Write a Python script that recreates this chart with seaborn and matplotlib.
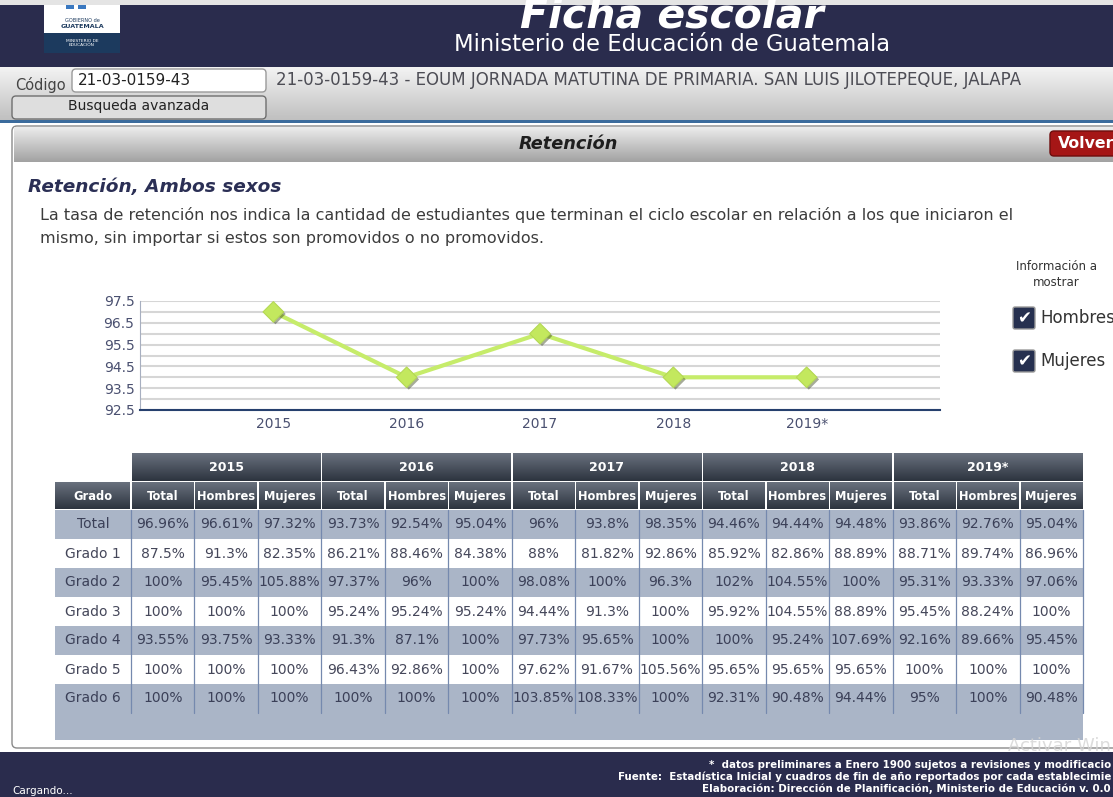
import numpy as np
import matplotlib.pyplot as plt
import matplotlib.colors as mcolors
import matplotlib.patheffects as pe
from matplotlib.patches import Rectangle, FancyBboxPatch
import seaborn as sns

# chart data
years = ["2015", "2016", "2017", "2018", "2019*"]
retention = [97.0, 94.0, 96.0, 94.0, 94.0]
y_ticks = [92.5, 93.5, 94.5, 95.5, 96.5, 97.5]

# table data
sub_cols = ["Total", "Hombres", "Mujeres"]
grados = ["Total", "Grado 1", "Grado 2", "Grado 3", "Grado 4", "Grado 5", "Grado 6"]
total_row = [96.96, 96.61, 97.32, 93.73, 92.54, 95.04, 96, 93.8, 98.35, 94.46, 94.44, 94.48, 93.86, 92.76, 95.04]
grado1 = [87.5, 91.3, 82.35, 86.21, 88.46, 84.38, 88, 81.82, 92.86, 85.92, 82.86, 88.89, 88.71, 89.74, 86.96]
grado2 = [100, 95.45, 105.88, 97.37, 96, 100, 98.08, 100, 96.3, 102, 104.55, 100, 95.31, 93.33, 97.06]
grado3 = [100, 100, 100, 95.24, 95.24, 95.24, 94.44, 91.3, 100, 95.92, 104.55, 88.89, 95.45, 88.24, 100]
grado4 = [93.55, 93.75, 93.33, 91.3, 87.1, 100, 97.73, 95.65, 100, 100, 95.24, 107.69, 92.16, 89.66, 95.45]
grado5 = [100, 100, 100, 96.43, 92.86, 100, 97.62, 91.67, 105.56, 95.65, 95.65, 95.65, 100, 100, 100]
grado6 = [100, 100, 100, 100, 100, 100, 103.85, 108.33, 100, 92.31, 90.48, 94.44, 95, 100, 90.48]
rows = [total_row, grado1, grado2, grado3, grado4, grado5, grado6]

# footer notes, as far as they show on screen
notes = ["*  datos preliminares a Enero 1900 sujetos a revisiones y modificacio",
         "Fuente:  Estadística Inicial y cuadros de fin de año reportados por cada establecimie",
         "Elaboración: Dirección de Planificación, Ministerio de Educación v. 0.0"]

sns.set_style("white")
plt.rcParams['font.family'] = ['DejaVu Sans']

W, H = 1113, 797
fig = plt.figure(figsize=(W / 100, H / 100), dpi=100)
bg = fig.add_axes([0, 0, 1, 1])
bg.axis('off')

NAVY = '#2a2c4d'


def grad(x0, y0, x1, y1, top, bottom, z=1):
    c = np.linspace(0, 1, 64)[:, None, None]
    t = np.array(mcolors.to_rgb(top))[None, None, :]
    b = np.array(mcolors.to_rgb(bottom))[None, None, :]
    img = t * (1 - c) + b * c
    bg.imshow(img, extent=(x0, x1, y1, y0), aspect='auto', zorder=z, interpolation='bilinear')


def box(x0, y0, w, h, fc, ec='none', z=1, r=0, lw=1):
    if r:
        p = FancyBboxPatch((x0, y0), w, h, boxstyle=f"round,pad=0,rounding_size={r}",
                           fc=fc, ec=ec, lw=lw, zorder=z)
    else:
        p = Rectangle((x0, y0), w, h, fc=fc, ec=ec, lw=lw, zorder=z)
    bg.add_patch(p)
    return p


# top banner
box(0, 0, W, 5, '#e4e4e4')
banner = box(0, 5, W, 62, NAVY)
box(44, 5, 76, 28, 'white', z=2)
box(44, 33, 76, 20, '#1c3a5e', z=2)
box(66, 5, 8, 4, '#3a78c0', z=3)
box(78, 5, 8, 4, '#3a78c0', z=3)
bg.text(82, 20, "GOBIERNO de", ha='center', va='center', fontsize=3.6, color='#1c3a5e', zorder=3)
bg.text(82, 26, "GUATEMALA", ha='center', va='center', fontsize=4.6, fontweight='bold', color='#1c3a5e', zorder=3)
bg.text(82, 43, "MINISTERIO DE\nEDUCACIÓN", ha='center', va='center', fontsize=3.2, color='white',
        linespacing=1.1, zorder=3)
title = bg.text(672, 27, "Ficha escolar", ha='center', va='baseline', fontsize=29.5, fontweight='bold',
                fontstyle='italic', color='white', zorder=3)
title.set_clip_path(banner)
bg.text(672, 44, "Ministerio de Educación de Guatemala", ha='center', va='center', fontsize=16.3,
        color='white', zorder=3)

# search bar
grad(0, 67, W, 120, '#f3f3f3', '#c0c0c0')
bg.text(15, 85, "Código", va='center', fontsize=10.5, color='#444444', zorder=3)
box(72, 69, 194, 23, 'white', ec='#9a9a9a', z=2, r=4)
bg.text(78, 80, "21-03-0159-43", va='center', fontsize=11, color='#222222', zorder=3)
box(12, 96, 254, 23, '#dedede', ec='#6f6f6f', z=2, r=4)
bg.text(139, 106, "Busqueda avanzada", ha='center', va='center', fontsize=10, color='#222222', zorder=3)
bg.text(276, 80, "21-03-0159-43 - EOUM JORNADA MATUTINA DE PRIMARIA. SAN LUIS JILOTEPEQUE, JALAPA",
        va='center', fontsize=12, color='#4d4d55', zorder=3)
box(0, 120, W, 3, '#3b6b9c', z=2)

# main panel
box(12, 126, W, 622, 'white', ec='#8a8a8a', z=1, r=5)
grad(14, 127, W, 162, '#ececec', '#a2a2a2', z=2)
bg.text(568, 144, "Retención", ha='center', va='center', fontsize=12.8, fontweight='bold',
        fontstyle='italic', color='#1e1e1e', zorder=3)
box(1050, 131, 70, 25, '#a51616', ec='#6d0c0c', z=3, r=4)
bg.text(1058, 143, "Volver", va='center', fontsize=11.3, fontweight='bold', color='white', zorder=4)

bg.text(28, 187, "Retención, Ambos sexos", va='center', fontsize=13.3, fontweight='bold',
        fontstyle='italic', color='#2b2f55', zorder=3)
bg.text(40, 215, "La tasa de retención nos indica la cantidad de estudiantes que terminan el ciclo "
        "escolar en relación a los que iniciaron el", va='center', fontsize=11.5, color='#3c3c3c', zorder=3)
bg.text(40, 238, "mismo, sin importar si estos son promovidos o no promovidos.", va='center',
        fontsize=11.5, color='#3c3c3c', zorder=3)

# display options
bg.text(1056, 274, "Información a\nmostrar", ha='center', va='center', fontsize=8.5,
        color='#333333', linespacing=1.3, zorder=3)
for label, yc in [("Hombres", 318), ("Mujeres", 361)]:
    box(1013, yc - 11, 22, 22, '#26304f', ec='#9a9a9a', z=3, r=2)
    bg.text(1024, yc, "✔", ha='center', va='center', fontsize=12, color='white', zorder=4)
    bg.text(1040, yc, label, va='center', fontsize=12, color='#333333', zorder=4)

# table
gx0, gx1 = 55, 131
cw = (1083 - 131) / 15
r1, r2, rt = 453, 482, 510
rh = 29
hdr_top, hdr_bot = '#69717e', '#2d343f'
for i, yr in enumerate(years):
    x = gx1 + i * 3 * cw
    grad(x + 1, r1, x + 3 * cw - 1, r2 - 1, hdr_top, hdr_bot, z=2)
    bg.text(x + 1.5 * cw, (r1 + r2) / 2, yr, ha='center', va='center', fontsize=9,
            fontweight='bold', color='white', zorder=3)
    for j, sc in enumerate(sub_cols):
        xs = x + j * cw
        grad(xs + 1, r2, xs + cw - 1, rt - 1, hdr_top, hdr_bot, z=2)
        bg.text(xs + cw / 2, (r2 + rt) / 2, sc, ha='center', va='center', fontsize=8.3,
                fontweight='bold', color='white', zorder=3)
grad(gx0, r2, gx1 - 1, rt - 1, hdr_top, hdr_bot, z=2)
bg.text((gx0 + gx1) / 2, (r2 + rt) / 2, "Grado", ha='center', va='center', fontsize=8.3,
        fontweight='bold', color='white', zorder=3)

SHADE = '#aab5c7'
for k, (g, vals) in enumerate(zip(grados, rows)):
    y = rt + k * rh
    if k % 2 == 0:
        box(gx0, y, 1083 - gx0, rh, SHADE, z=2)
    tc = '#3b4058' if k % 2 == 0 else '#45475a'
    bg.text((gx0 + gx1) / 2, y + rh / 2, g, ha='center', va='center', fontsize=10, color=tc, zorder=3)
    for c, v in enumerate(vals):
        bg.text(gx1 + c * cw + cw / 2, y + rh / 2, f"{v:g}%", ha='center', va='center',
                fontsize=10, color=tc, zorder=3)
box(gx0, rt + len(grados) * rh, 1083 - gx0, 27, SHADE, z=2)
for c in range(16):
    xl = gx1 + c * cw
    bg.plot([xl, xl], [rt, rt + len(grados) * rh], color='#7589ae', lw=0.9, zorder=3)

# footer
box(0, 752, W, 45, NAVY)
for n, note in enumerate(notes):
    bg.text(1111, 765 + 12 * n, note, ha='right', va='center', fontsize=7.4, fontweight='bold',
            color='white', zorder=3)
bg.text(12, 791, "Cargando...", va='center', fontsize=7.5, color='white', zorder=3)
bg.text(1111, 746, "Activar Win", ha='right', va='center', fontsize=13, color='#d4d4d4',
        alpha=0.8, zorder=5)

bg.set_xlim(0, W)
bg.set_ylim(H, 0)

# line chart
ax = fig.add_axes([140 / W, 1 - 410 / H, 800 / W, 109 / H])
sns.lineplot(x=years, y=retention, ax=ax, color='#c6ec6a', lw=3, sort=False)
sns.scatterplot(x=years, y=retention, ax=ax, marker='D', s=110, color='#c3e85e',
                edgecolor='#b5d956', linewidth=0.8, zorder=3)
for coll in ax.collections:
    coll.set_path_effects([pe.SimplePatchShadow(offset=(1.5, -1.5), alpha=0.45), pe.Normal()])
ax.set_xlim(-1, 5)
ax.set_ylim(92.5, 97.5)
ax.set_yticks(y_ticks)
ax.set_yticks([t + 0.5 for t in y_ticks[:-1]], minor=True)
ax.grid(which='both', axis='y', color='#d6d6d6', lw=1.5)
ax.grid(axis='x', visible=False)
ax.set_xlabel("")
ax.set_ylabel("")
ax.tick_params(which='both', length=0, labelsize=10, labelcolor='#4a5070')
ax.tick_params(axis='x', pad=5)
ax.tick_params(axis='y', pad=4)
for s in ['top', 'right']:
    ax.spines[s].set_visible(False)
ax.spines['left'].set_color('#a7afc0')
ax.spines['bottom'].set_color('#26406e')
ax.spines['bottom'].set_linewidth(1.5)
ax.set_facecolor('white')

fig.savefig("out.png", dpi=100)
